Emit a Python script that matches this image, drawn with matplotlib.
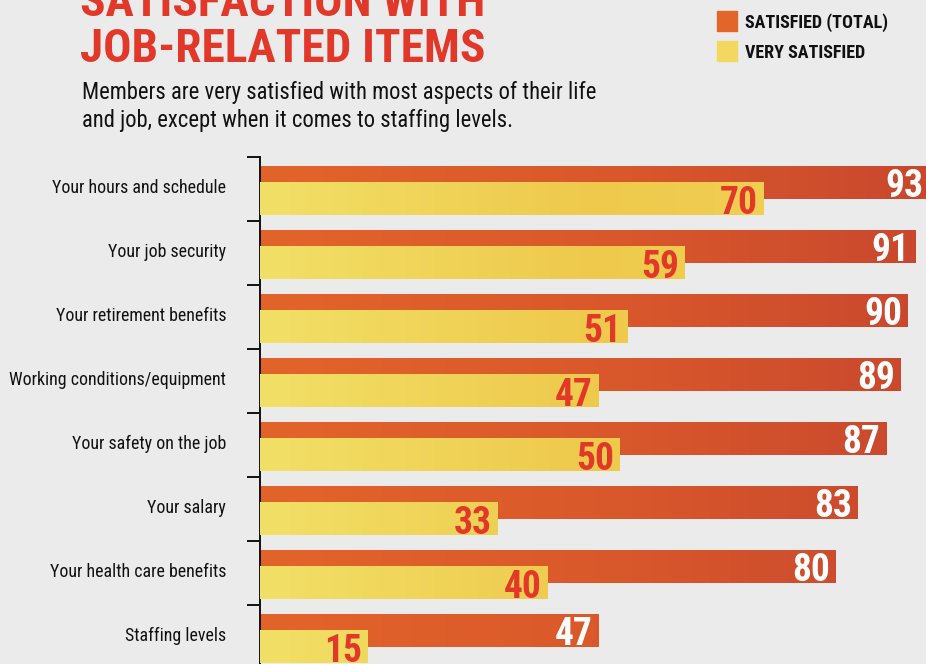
import matplotlib
matplotlib.use("Agg")
import numpy as np
import matplotlib.pyplot as plt
from matplotlib.colors import LinearSegmentedColormap
from matplotlib.transforms import blended_transform_factory, offset_copy

plt.rcParams['font.family'] = ['Roboto Condensed', 'DejaVu Sans']

# ---------- data ----------
items = ["Your hours and schedule", "Your job security", "Your retirement benefits",
         "Working conditions/equipment", "Your safety on the job", "Your salary",
         "Your health care benefits", "Staffing levels"]
satisfied_total = [93, 91, 90, 89, 87, 83, 80, 47]
very_satisfied = [70, 59, 51, 47, 50, 33, 40, 15]

RED = "#E2382A"
BG = "#EBEBEB"
orange_cmap = LinearSegmentedColormap.from_list("o", ["#E3642A", "#DA592B", "#C9482E"])
yellow_cmap = LinearSegmentedColormap.from_list("y", ["#F2E066", "#EEC94C", "#F2D457"])

W, H = 926, 664
fig = plt.figure(figsize=(W / 100, H / 100), dpi=100, facecolor=BG)
ax = fig.add_axes([260 / W, 0, 1 - 260 / W, 1 - 157 / H])
ax.set_facecolor(BG)

XMAX = 92.5
YLIM = (-0.5 + (H - 157) / 64, -0.5)
ax.set_xlim(0, XMAX)
ax.set_ylim(*YLIM)

pos = np.arange(len(items))
h = 0.516
off_o, off_y = -0.102, 0.148
grad = np.linspace(0, 1, 256).reshape(1, -1)

bars_o = ax.barh(pos + off_o, satisfied_total, height=h, color="#DA592B", zorder=2)
bars_y = ax.barh(pos + off_y, very_satisfied, height=h, color="#F0D055", zorder=3)
for bars, cmap, z in [(bars_o, orange_cmap, 2.5), (bars_y, yellow_cmap, 3.5)]:
    for b in bars:
        im = ax.imshow(grad, cmap=cmap, aspect="auto", extent=(0, XMAX, YLIM[0], YLIM[1]),
                       zorder=z, interpolation="bilinear")
        im.set_clip_path(b)

for p, v in zip(pos, satisfied_total):
    ax.annotate(str(v), (v, p + off_o + h / 2), xytext=(-4.3, 1.4), textcoords="offset points",
                ha="right", va="baseline", color="white", fontsize=27, fontweight="bold",
                zorder=5, annotation_clip=False)
for p, v in zip(pos, very_satisfied):
    ax.annotate(str(v), (v, p + off_y + h / 2), xytext=(-4.3, 0.7), textcoords="offset points",
                ha="right", va="baseline", color=RED, fontsize=27, fontweight="bold",
                zorder=6, annotation_clip=False)

# category labels, baseline slightly above the band centre
lab_tr = offset_copy(blended_transform_factory(ax.transAxes, ax.transData), fig=fig, x=-34, y=0,
                     units="dots")
for p, name in zip(pos, items):
    ax.text(0, p + 0.058, name, transform=lab_tr, ha="right", va="baseline",
            fontsize=12.9, color="#111111")

ax.set_xticks([])
ax.set_yticks(pos - 0.5)
ax.set_yticklabels([])
ax.tick_params(axis="y", length=9.4, width=1.4, color="#111111")
for s in ["top", "right", "bottom"]:
    ax.spines[s].set_visible(False)
ax.spines["left"].set_linewidth(1.4)
ax.spines["left"].set_color("#111111")

# ---------- titles ----------
fig.text(80 / W, 1 - 16 / H, "SATISFACTION WITH", ha="left", va="baseline",
         fontsize=34, fontweight="bold", color=RED)
fig.text(80 / W, 1 - 62 / H, "JOB-RELATED ITEMS", ha="left", va="baseline",
         fontsize=34, fontweight="bold", color=RED)
fig.text(82 / W, 1 - 99 / H, "Members are very satisfied with most aspects of their life",
         ha="left", va="baseline", fontsize=16.3, color="#111111")
fig.text(82 / W, 1 - 127 / H, "and job, except when it comes to staffing levels.",
         ha="left", va="baseline", fontsize=16.3, color="#111111")

# ---------- legend ----------
for y, col, lab in [(11, "#E2652A", "SATISFIED (TOTAL)"), (41, "#F2D860", "VERY SATISFIED")]:
    fig.patches.append(plt.Rectangle((717 / W, 1 - (y + 20) / H), 20 / W, 20 / H,
                                     transform=fig.transFigure, color=col))
    fig.text(745 / W, 1 - (y + 16.5) / H, lab, ha="left", va="baseline",
             fontsize=13, fontweight="bold", color="#111111")

fig.savefig("out.png", dpi=100, facecolor=BG)
